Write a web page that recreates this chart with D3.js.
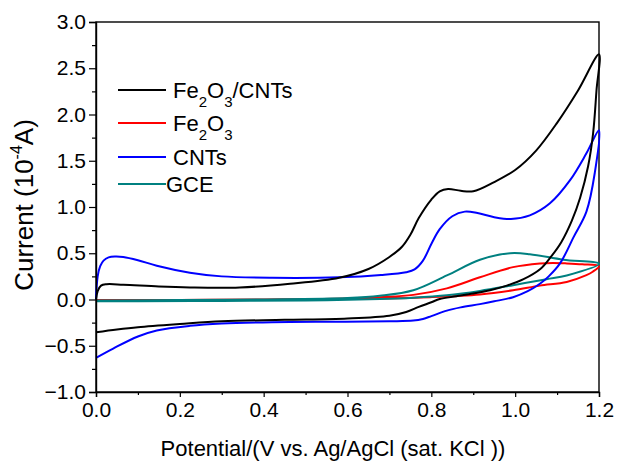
<!DOCTYPE html>
<html>
<head>
<meta charset="utf-8">
<script src="https://cdn.jsdelivr.net/npm/d3@7"></script>
<style>
  html, body { margin: 0; padding: 0; background: #fff; }
  svg { display: block; font-family: "Liberation Sans", Arial, sans-serif; }
</style>
</head>
<body>
<svg id="chart" width="617" height="461"></svg>
<script>
// ---------- data (potential in V, current in 1e-4 A) ----------
const fe2o3CntsV = [0, 0.004, 0.012, 0.025, 0.065, 0.15, 0.224, 0.343, 0.463, 0.58, 0.65, 0.70, 0.73, 0.75, 0.77, 0.80, 0.82, 0.84, 0.87, 0.90, 0.95, 1.00, 1.05, 1.10, 1.15, 1.20,
                    1.194, 1.186, 1.174, 1.155, 1.135, 1.11, 1.085, 1.06, 1.02, 0.98, 0.94, 0.90, 0.86, 0.82, 0.80, 0.77, 0.74, 0.70, 0.60, 0.45, 0.30, 0.20, 0.10, 0.05, 0];
const fe2o3CntsI = [0, 0.09, 0.15, 0.165, 0.16, 0.14, 0.13, 0.13, 0.17, 0.235, 0.33, 0.46, 0.57, 0.70, 0.88, 1.08, 1.17, 1.195, 1.175, 1.17, 1.27, 1.40, 1.61, 1.91, 2.26, 2.65,
                    2.26, 1.80, 1.44, 1.10, 0.85, 0.62, 0.46, 0.33, 0.22, 0.15, 0.10, 0.065, 0.035, 0.005, -0.03, -0.08, -0.135, -0.175, -0.205, -0.22, -0.235, -0.265, -0.3, -0.325, -0.355];

const fe2o3V = [0, 0.2, 0.4, 0.6, 0.677, 0.757, 0.837, 0.916, 0.995, 1.059, 1.09, 1.123, 1.16, 1.2,
                1.185, 1.17, 1.123, 1.059, 0.995, 0.916, 0.797, 0.677, 0.5, 0.3, 0.1, 0];
const fe2o3I = [-0.005, -0.005, 0, 0.01, 0.025, 0.05, 0.12, 0.24, 0.35, 0.39, 0.395, 0.39, 0.38, 0.36,
                0.3, 0.263, 0.19, 0.15, 0.1, 0.055, 0.025, 0.01, 0, -0.005, -0.01, -0.01];

const cntsV = [0, 0.004, 0.01, 0.018, 0.03, 0.045, 0.065, 0.1, 0.145, 0.224, 0.30, 0.42, 0.58, 0.68, 0.74, 0.76, 0.78, 0.80, 0.82, 0.85, 0.88, 0.91, 0.95, 0.99, 1.035, 1.083, 1.131, 1.17, 1.2,
               1.19, 1.17, 1.14, 1.107, 1.08, 1.059, 1.03, 0.995, 0.95, 0.916, 0.87, 0.837, 0.80, 0.78, 0.757, 0.70, 0.58, 0.42, 0.30, 0.224, 0.145, 0.1, 0.041, 0];
const cntsI = [0, 0.25, 0.36, 0.42, 0.455, 0.465, 0.46, 0.425, 0.365, 0.29, 0.25, 0.235, 0.24, 0.265, 0.295, 0.325, 0.42, 0.6, 0.76, 0.9, 0.95, 0.935, 0.89, 0.87, 0.91, 1.04, 1.29, 1.58, 1.83,
               1.37, 0.95, 0.68, 0.39, 0.25, 0.17, 0.09, 0.025, -0.02, -0.05, -0.085, -0.12, -0.18, -0.21, -0.228, -0.235, -0.24, -0.245, -0.26, -0.285, -0.335, -0.40, -0.53, -0.63];

const gceV = [0, 0.2, 0.4, 0.6, 0.677, 0.757, 0.837, 0.916, 0.988, 1.035, 1.115, 1.2,
              1.123, 1.075, 0.995, 0.916, 0.837, 0.757, 0.677, 0.5, 0.3, 0.1, 0];
const gceI = [-0.01, -0.005, 0, 0.015, 0.04, 0.1, 0.26, 0.43, 0.5, 0.49, 0.43, 0.385,
              0.26, 0.22, 0.155, 0.093, 0.046, 0.02, 0.005, -0.01, -0.015, -0.02, -0.02];

const seriesNames = ["Fe2O3/CNTs", "Fe2O3", "CNTs", "GCE"];
const seriesColors = ["#000000", "#ff0000", "#0000ff", "#008080"];
const seriesV = [fe2o3CntsV, fe2o3V, cntsV, gceV];
const seriesI = [fe2o3CntsI, fe2o3I, cntsI, gceI];

const xTicks = [0.0, 0.2, 0.4, 0.6, 0.8, 1.0, 1.2];
const yTicks = [-1.0, -0.5, 0.0, 0.5, 1.0, 1.5, 2.0, 2.5, 3.0];

// ---------- layout ----------
const svg = d3.select("#chart");
const margin = {left: 96, right: 18, top: 22, bottom: 69};
const W = 617, H = 461;
const x = d3.scaleLinear().domain([0, 1.2]).range([margin.left, W - margin.right]);
const y = d3.scaleLinear().domain([-1.0, 3.0]).range([H - margin.bottom, margin.top]);

// frame
svg.append("rect")
  .attr("x", x(0)).attr("y", y(3)).attr("width", x(1.2) - x(0)).attr("height", y(-1) - y(3))
  .attr("fill", "none").attr("stroke", "#000").attr("stroke-width", 1.4);

// curves
const line = d3.line().x(d => x(d[0])).y(d => y(d[1])).curve(d3.curveCatmullRom.alpha(0.5));
const series = seriesNames.map((n, i) => ({
  name: n, color: seriesColors[i],
  pts: seriesV[i].map((v, j) => [v, seriesI[i][j]])
}));
const drawOrder = [1, 3, 2, 0];
const g = svg.append("g");
drawOrder.forEach(i => {
  g.append("path").attr("d", line(series[i].pts))
    .attr("fill", "none").attr("stroke", series[i].color)
    .attr("stroke-width", 2).attr("stroke-linejoin", "round");
});

// axes
const fontSize = 21;
const xAxis = d3.axisBottom(x).tickValues(xTicks).tickFormat(d3.format(".1f")).tickSize(5).tickPadding(5);
const xMinor = d3.axisBottom(x).tickValues(d3.range(0.1, 1.2, 0.2)).tickFormat("").tickSize(3);
svg.append("g").attr("transform", `translate(0,${y(-1)})`).call(xAxis);
svg.append("g").attr("transform", `translate(0,${y(-1)})`).call(xMinor).select(".domain").remove();
const yAxis = d3.axisLeft(y).tickValues(yTicks).tickFormat(d3.format(".1f")).tickSize(7).tickPadding(3);
const yMinor = d3.axisLeft(y).tickValues(d3.range(-0.75, 3.0, 0.5)).tickFormat("").tickSize(4);
svg.append("g").attr("transform", `translate(${x(0)},0)`).call(yAxis);
svg.append("g").attr("transform", `translate(${x(0)},0)`).call(yMinor).select(".domain").remove();
svg.selectAll(".domain").attr("stroke-width", 1.4);
svg.selectAll(".tick line").attr("stroke", "#000").attr("stroke-width", 1.2);
svg.selectAll(".tick text").attr("font-size", fontSize).attr("fill", "#000")
  .attr("font-family", "'Liberation Sans', Arial, sans-serif");

// axis titles
svg.append("text").attr("x", 333).attr("y", 456).attr("text-anchor", "middle")
  .attr("font-size", 22).attr("fill", "#000")
  .text("Potential/(V vs. Ag/AgCl (sat. KCl ))");

const yt = svg.append("text").attr("transform", `translate(33,${y(1.0) - 2}) rotate(-90)`)
  .attr("text-anchor", "middle").attr("font-size", 26).attr("fill", "#000");
yt.append("tspan").text("Current (10");
yt.append("tspan").attr("font-size", 16).attr("dy", -11).text("-4");
yt.append("tspan").attr("dy", 11).text("A)");

// legend
const legendRows = [
  {i: 0, y: 90, parts: [["Fe", 0], ["2", 1], ["O", 0], ["3", 1], ["/CNTs", 0]], tx: 173},
  {i: 1, y: 123, parts: [["Fe", 0], ["2", 1], ["O", 0], ["3", 1]], tx: 173},
  {i: 2, y: 157, parts: [["CNTs", 0]], tx: 173},
  {i: 3, y: 184, parts: [["GCE", 0]], tx: 166}
];
legendRows.forEach(r => {
  svg.append("line").attr("x1", 118).attr("x2", 166).attr("y1", r.y).attr("y2", r.y)
    .attr("stroke", seriesColors[r.i]).attr("stroke-width", 2);
  const t = svg.append("text").attr("x", r.tx).attr("y", r.y + 8).attr("font-size", 22).attr("fill", "#000");
  let sub = 0;
  r.parts.forEach(([s, isSub]) => {
    const ts = t.append("tspan").text(s);
    if (isSub && !sub) { ts.attr("dy", 9).attr("font-size", 15); sub = 1; }
    else if (!isSub && sub) { ts.attr("dy", -9); sub = 0; }
    else if (isSub && sub) { ts.attr("font-size", 15); }
  });
});
</script>
</body>
</html>
